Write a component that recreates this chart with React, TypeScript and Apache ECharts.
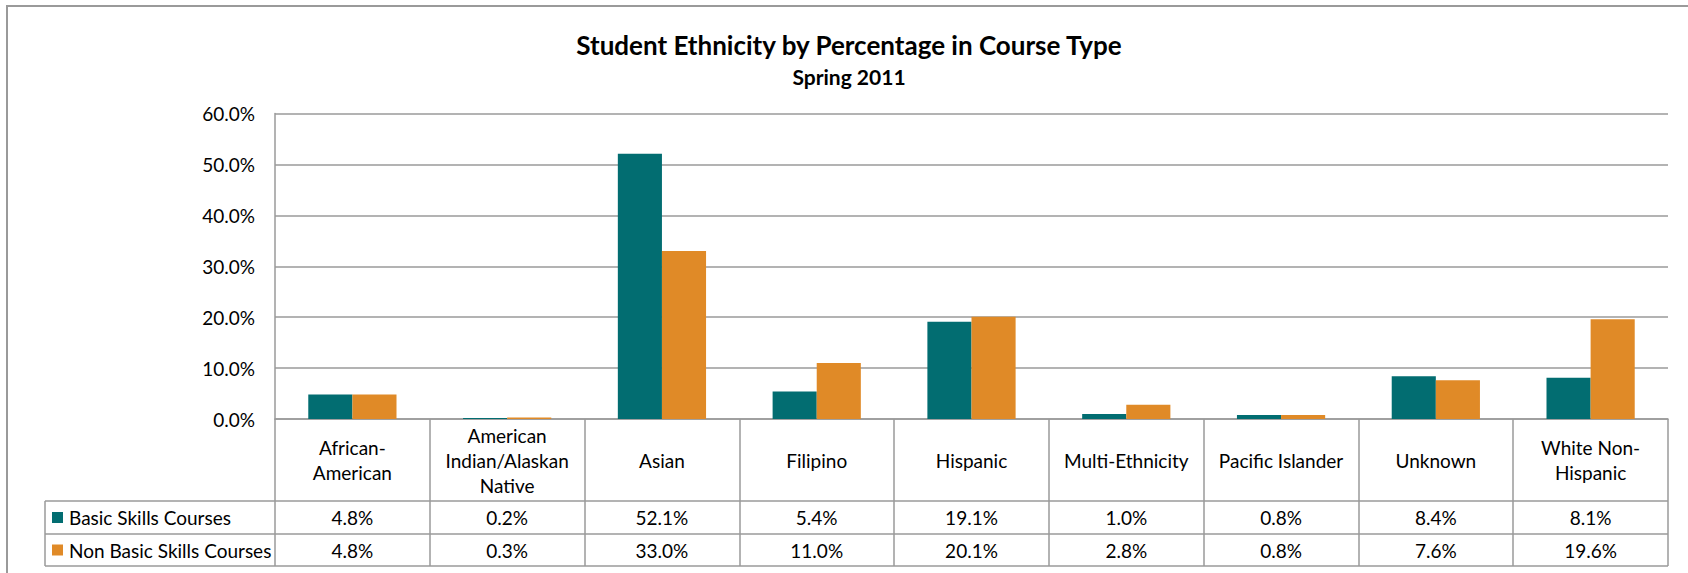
import React, { useEffect, useRef } from "react";
import * as echarts from "echarts";

const categories = [
  "African-\nAmerican",
  "American\nIndian/Alaskan\nNative",
  "Asian",
  "Filipino",
  "Hispanic",
  "Multi-Ethnicity",
  "Pacific Islander",
  "Unknown",
  "White Non-\nHispanic",
];
const seriesNames = ["Basic Skills Courses", "Non Basic Skills Courses"];
const basicSkills = [4.8, 0.2, 52.1, 5.4, 19.1, 1.0, 0.8, 8.4, 8.1];
const nonBasicSkills = [4.8, 0.3, 33.0, 11.0, 20.1, 2.8, 0.8, 7.6, 19.6];
const colors = ["#026D71", "#E08A27"];
const titleText = "Student Ethnicity by Percentage in Course Type";
const subtitleText = "Spring 2011";

const FONT = "Lato, 'Open Sans', sans-serif";
const FS = 19;
const GRID_LEFT = 275;
const GRID_RIGHT_X = 1668;
const GRID_TOP = 113.5;
const GRID_BOTTOM_Y = 419;
const ROW1_TOP = 501;
const ROW2_TOP = 534;
const ROW2_BOTTOM = 566;
const LEGEND_LEFT = 45;
const LINE_COLOR = "#9a9a9a";

export default function App() {
  const ref = useRef<HTMLDivElement>(null);

  useEffect(() => {
    document.body.style.margin = "0";
    if (!ref.current) return;
    const chart = echarts.init(ref.current, undefined, { renderer: "svg" });
    const W = 1688;
    const H = 573;
    const option: any = {
      animation: false,
      backgroundColor: "#ffffff",
      grid: {
        left: GRID_LEFT,
        right: W - GRID_RIGHT_X,
        top: GRID_TOP,
        bottom: H - GRID_BOTTOM_Y,
        containLabel: false,
      },
      xAxis: {
        type: "category",
        data: categories,
        boundaryGap: true,
        axisLine: { show: true, lineStyle: { color: LINE_COLOR, width: 1.5 } },
        axisTick: {
          show: true,
          interval: 0,
          length: ROW2_BOTTOM - GRID_BOTTOM_Y,
          lineStyle: { color: LINE_COLOR, width: 1.5 },
        },
        axisLabel: {
          interval: 0,
          margin: (ROW1_TOP - GRID_BOTTOM_Y) / 2,
          verticalAlign: "middle",
          fontFamily: FONT,
          fontSize: FS,
          lineHeight: 25,
          color: "#000",
        },
      },
      yAxis: {
        type: "value",
        min: 0,
        max: 60,
        interval: 10,
        axisLine: { show: true, lineStyle: { color: LINE_COLOR, width: 1.5 } },
        axisTick: { show: false },
        splitLine: { show: true, lineStyle: { color: LINE_COLOR, width: 1.5 } },
        axisLabel: {
          margin: 20,
          fontFamily: FONT,
          fontSize: FS,
          color: "#000",
          formatter: (v: number) => v.toFixed(1) + "%",
        },
      },
      series: [
        {
          name: seriesNames[0],
          type: "bar",
          data: basicSkills,
          barGap: "0%",
          barCategoryGap: "43%",
          itemStyle: { color: colors[0] },
        },
        {
          name: seriesNames[1],
          type: "bar",
          data: nonBasicSkills,
          barGap: "0%",
          barCategoryGap: "43%",
          itemStyle: { color: colors[1] },
        },
      ],
    };
    chart.setOption(option);

    const graphics: any[] = [];
    // outer chart frame
    graphics.push({
      type: "rect",
      shape: { x: 7, y: 6, width: 1720, height: 620 },
      style: { fill: "none", stroke: LINE_COLOR, lineWidth: 2 },
      silent: true,
    });
    // titles
    graphics.push({
      type: "text",
      x: 849,
      y: 45,
      style: {
        text: titleText,
        fontFamily: FONT,
        fontSize: 26,
        fontWeight: "bold",
        fill: "#000",
        align: "center",
        verticalAlign: "middle",
      },
      silent: true,
    });
    graphics.push({
      type: "text",
      x: 849,
      y: 76,
      style: {
        text: subtitleText,
        fontFamily: FONT,
        fontSize: 21,
        fontWeight: "bold",
        fill: "#000",
        align: "center",
        verticalAlign: "middle",
      },
      silent: true,
    });
    // table lines
    [ROW1_TOP, ROW2_TOP, ROW2_BOTTOM].forEach((y) => {
      graphics.push({
        type: "line",
        shape: { x1: LEGEND_LEFT, y1: y, x2: GRID_RIGHT_X, y2: y },
        style: { stroke: LINE_COLOR, lineWidth: 1.5 },
        silent: true,
      });
    });
    graphics.push({
      type: "line",
      shape: { x1: LEGEND_LEFT, y1: ROW1_TOP, x2: LEGEND_LEFT, y2: ROW2_BOTTOM },
      style: { stroke: LINE_COLOR, lineWidth: 1.5 },
      silent: true,
    });
    const rows = [
      { top: ROW1_TOP, bottom: ROW2_TOP, values: basicSkills },
      { top: ROW2_TOP, bottom: ROW2_BOTTOM, values: nonBasicSkills },
    ];
    rows.forEach((row, ri) => {
      const cy = (row.top + row.bottom) / 2;
      graphics.push({
        type: "rect",
        shape: { x: 52, y: cy - 5.5, width: 11, height: 11 },
        style: { fill: colors[ri] },
        silent: true,
      });
      graphics.push({
        type: "text",
        x: 69,
        y: cy,
        style: {
          text: seriesNames[ri],
          fontFamily: FONT,
          fontSize: FS,
          fill: "#000",
          verticalAlign: "middle",
          align: "left",
        },
        silent: true,
      });
      row.values.forEach((v, i) => {
        const px = chart.convertToPixel({ xAxisIndex: 0 }, i) as number;
        graphics.push({
          type: "text",
          x: px,
          y: cy,
          style: {
            text: v.toFixed(1) + "%",
            fontFamily: FONT,
            fontSize: FS,
            fill: "#000",
            align: "center",
            verticalAlign: "middle",
          },
          silent: true,
        });
      });
    });
    chart.setOption({ graphic: graphics });

    return () => chart.dispose();
  }, []);

  return <div ref={ref} style={{ width: 1688, height: 573 }} />;
}
